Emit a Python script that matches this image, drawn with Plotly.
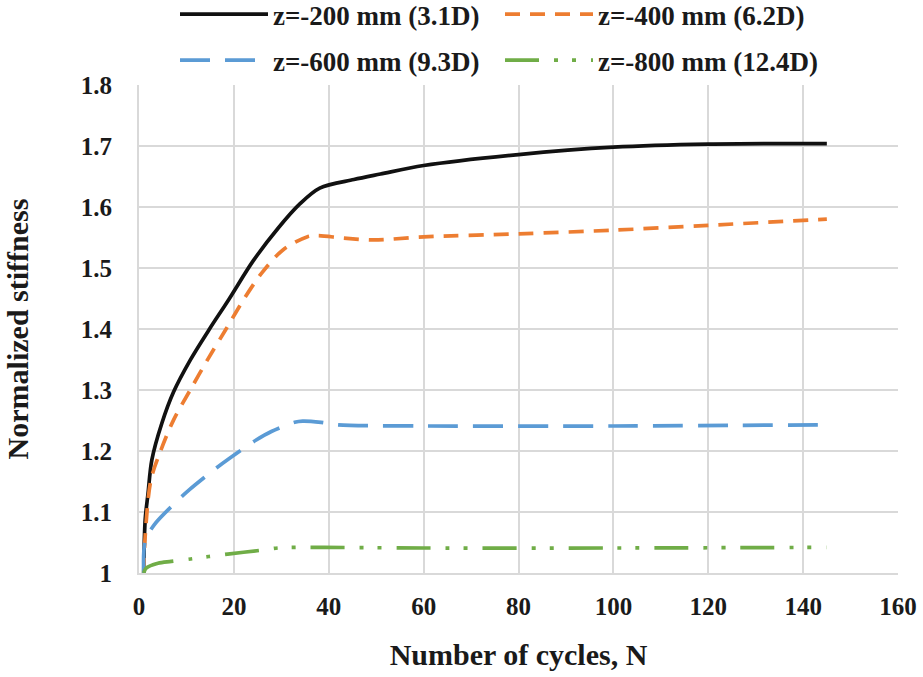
import plotly.graph_objects as go

# ---- data ----
n_200 = [1, 1.3, 1.9, 2.7, 4.8, 7.3, 10.8, 14.7, 18.9, 24.1, 29.4, 33.9, 38.1, 45.3, 50.9, 60, 80, 100, 120, 145]
k_200 = [1.0, 1.087, 1.13, 1.185, 1.245, 1.297, 1.349, 1.398, 1.448, 1.512, 1.566, 1.605, 1.631, 1.645, 1.654, 1.668, 1.686, 1.698, 1.703, 1.704]

n_400 = [1, 1.3, 2.5, 4.5, 7.3, 10.8, 14.4, 18.2, 22.2, 25.9, 30.4, 35.4, 37.5, 43.2, 49.5, 60, 80, 100, 120, 145]
k_400 = [1.0, 1.06, 1.152, 1.199, 1.251, 1.3, 1.349, 1.398, 1.45, 1.492, 1.53, 1.551, 1.553, 1.549, 1.546, 1.551, 1.556, 1.562, 1.57, 1.58]

n_600 = [1, 1.3, 3.2, 7.9, 10.7, 16.3, 19.1, 24.7, 27.9, 32.8, 34.5, 38.4, 41.9, 60, 100, 145]
k_600 = [1.0, 1.052, 1.079, 1.117, 1.137, 1.172, 1.188, 1.218, 1.232, 1.247, 1.249, 1.247, 1.243, 1.241, 1.241, 1.243]

n_800 = [1, 1.5, 4, 6.8, 10.9, 14.7, 18.7, 25.4, 29.3, 33.1, 39.1, 60, 100, 145]
k_800 = [1.0, 1.008, 1.016, 1.019, 1.023, 1.027, 1.031, 1.037, 1.041, 1.042, 1.042, 1.041, 1.041, 1.042]

names = ["z=-200 mm (3.1D)", "z=-400 mm (6.2D)", "z=-600 mm (9.3D)", "z=-800 mm (12.4D)"]
x_ticks = [0, 20, 40, 60, 80, 100, 120, 140, 160]
y_ticks = [1, 1.1, 1.2, 1.3, 1.4, 1.5, 1.6, 1.7, 1.8]
y_tick_text = ["1", "1.1", "1.2", "1.3", "1.4", "1.5", "1.6", "1.7", "1.8"]

FONT = "Liberation Serif"
TXT = "#1a1a1a"

fig = go.Figure()
series = [
    (n_200, k_200, names[0], "#111111", "solid", "legend"),
    (n_400, k_400, names[1], "#ED7D31", "15px,10px", "legend"),
    (n_600, k_600, names[2], "#5B9BD5", "30px,15px", "legend2"),
    (n_800, k_800, names[3], "#70AD47", "34px,15px,4px,14px,4px,15px", "legend2"),
]
for xs, ys, nm, col, dash, lg in series:
    fig.add_trace(go.Scatter(
        x=xs, y=ys, name=nm, mode="lines",
        line=dict(color=col, width=3.7, dash=dash, shape="spline", smoothing=0.9),
        legend=lg,
    ))

L, R, T, B = 139, 25, 85, 104
plot_h = 677 - T - B
plot_w = 923 - L - R

legend_common = dict(
    orientation="h", xanchor="left", yanchor="top",
    font=dict(family=FONT, size=27, color=TXT, weight="bold"),
    bgcolor="rgba(0,0,0,0)", entrywidth=222, entrywidthmode="pixels",
    itemwidth=88,
)
fig.update_layout(
    width=923, height=677,
    margin=dict(l=L, r=R, t=T, b=B, autoexpand=False),
    paper_bgcolor="white", plot_bgcolor="white",
    font=dict(family=FONT, color=TXT),
    showlegend=True,
    legend=dict(x=(175 - L) / plot_w, y=(677 - B + 10) / plot_h, **legend_common),
    legend2=dict(x=(175 - L) / plot_w, y=(677 - B - 36) / plot_h, **legend_common),
    xaxis=dict(
        range=[0, 160], tickvals=x_ticks, ticks="", automargin=False,
        showgrid=True, gridcolor="#D9D9D9", gridwidth=2,
        showline=True, linecolor="#D9D9D9", linewidth=2,
        zeroline=False,
        tickfont=dict(family=FONT, size=25, color=TXT, weight="bold"),
        title=dict(text="Number of cycles, N", font=dict(family=FONT, size=30, color=TXT, weight="bold"), standoff=25),
        ticklabelstandoff=10,
    ),
    yaxis=dict(
        range=[1, 1.8], tickvals=y_ticks, ticktext=y_tick_text, ticks="", automargin=False,
        showgrid=True, gridcolor="#D9D9D9", gridwidth=2,
        showline=True, linecolor="#D9D9D9", linewidth=2,
        zeroline=False,
        tickfont=dict(family=FONT, size=25, color=TXT, weight="bold"),
        title=dict(text="Normalized stiffness", font=dict(family=FONT, size=30, color=TXT, weight="bold"), standoff=43),
        ticklabelstandoff=20,
    ),
)

fig.write_html(
    "out.html",
    config={"displayModeBar": False},
    post_script="document.body.style.margin='0';document.body.style.overflow='hidden';",
)
